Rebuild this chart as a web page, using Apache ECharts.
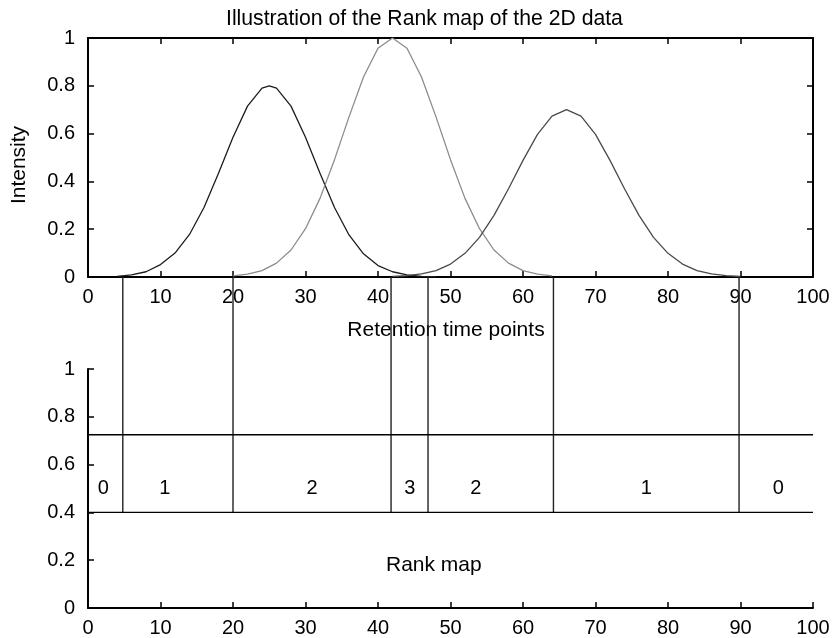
<!DOCTYPE html>
<html>
<head>
<meta charset="utf-8">
<script src="https://cdn.jsdelivr.net/npm/echarts@6/dist/echarts.min.js"></script>
<style>
  html, body { margin: 0; padding: 0; background: #fff; }
  #chart { width: 836px; height: 638px; }
</style>
</head>
<body>
<div id="chart"></div>
<script>
// peak profiles (retention time point, intensity)
const peak1X = [4, 6, 8, 10, 12, 14, 16, 18, 20, 22, 24, 25, 26, 28, 30, 32, 34, 36, 38, 40, 42, 44, 46, 48];
const peak1Y = [0.003, 0.009, 0.022, 0.052, 0.1, 0.178, 0.291, 0.434, 0.585, 0.715, 0.79, 0.8, 0.79, 0.715, 0.585, 0.434, 0.291, 0.176, 0.097, 0.048, 0.022, 0.009, 0.003, 0.001];

const peak2X = [20, 22, 24, 26, 28, 30, 32, 34, 36, 38, 40, 42, 44, 46, 48, 50, 52, 54, 56, 58, 60, 62, 64];
const peak2Y = [0.005, 0.012, 0.027, 0.058, 0.113, 0.202, 0.329, 0.491, 0.67, 0.837, 0.957, 1.0, 0.957, 0.837, 0.67, 0.491, 0.329, 0.202, 0.113, 0.058, 0.027, 0.012, 0.005];

const peak3X = [42, 44, 46, 48, 50, 52, 54, 56, 58, 60, 62, 64, 66, 68, 70, 72, 74, 76, 78, 80, 82, 84, 86, 88, 90];
const peak3Y = [0.002, 0.006, 0.013, 0.027, 0.054, 0.099, 0.166, 0.258, 0.369, 0.488, 0.597, 0.673, 0.7, 0.673, 0.597, 0.488, 0.369, 0.258, 0.166, 0.099, 0.054, 0.027, 0.013, 0.006, 0.002];

// rank map
const boundaries = [4.8, 20, 41.8, 46.9, 64.2, 89.8];
const bandLow = 0.4;
const bandHigh = 0.725;
const rankValues = [0, 1, 2, 3, 2, 1, 0];
const rankLabelX = [2.1, 10.6, 30.9, 44.4, 53.5, 77, 95.2];
const rankLabelY = 0.5;
const rankMapTextPos = [47.7, 0.18];

const xTicks = [0, 10, 20, 30, 40, 50, 60, 70, 80, 90, 100];
const yTicks = [0, 0.2, 0.4, 0.6, 0.8, 1];

const FONT = 'Liberation Sans, Arial, Helvetica, sans-serif';
const chart = echarts.init(document.getElementById('chart'));

const pairs = (xs, ys) => xs.map((x, i) => [x, ys[i]]);

const axisLine = { show: true, onZero: false, lineStyle: { color: '#000', width: 2 } };
const tick = { show: true, inside: true, length: 6, lineStyle: { color: '#000', width: 1.5 } };
const label = { color: '#000', fontSize: 20, fontFamily: FONT, showMinLabel: true, showMaxLabel: true };

const xBase = {
  type: 'value', min: xTicks[0], max: xTicks[xTicks.length - 1], interval: 10,
  splitLine: { show: false }, axisLine, axisTick: tick,
};
const yBase = {
  type: 'value', min: yTicks[0], max: yTicks[yTicks.length - 1], interval: 0.2,
  splitLine: { show: false }, axisLine, axisTick: tick,
};

// text placed at data coordinates in the rank-map panel
const textSeries = (data, size) => ({
  type: 'scatter', xAxisIndex: 1, yAxisIndex: 1, symbol: 'circle', symbolSize: 0, silent: true,
  itemStyle: { color: '#000' },
  data,
  label: {
    show: true, position: 'inside', formatter: (p) => p.name, opacity: 1,
    color: '#000', textBorderWidth: 0, fontSize: size, fontFamily: FONT,
  },
});

const option = {
  animation: false,
  backgroundColor: '#fff',
  title: {
    text: 'Illustration of the Rank map of the 2D data',
    left: 226,
    top: 9,
    padding: 0,
    textStyle: { color: '#000', fontSize: 21.2, fontWeight: 'normal', fontFamily: FONT },
  },
  grid: [
    { left: 88, right: 23, top: 38, height: 239 },
    { left: 88, right: 23, top: 369, height: 239 },
    { left: 88, right: 23, top: 277, height: 235 },
  ],
  xAxis: [
    {
      ...xBase, gridIndex: 0, position: 'bottom',
      axisLabel: { ...label, margin: 10 },
      name: 'Retention time points', nameLocation: 'middle', nameGap: 43,
      nameTextStyle: { color: '#000', fontSize: 21, fontFamily: FONT, padding: [0, 9, 0, 0] },
    },
    { ...xBase, gridIndex: 1, position: 'bottom', axisLabel: { ...label, margin: 10 } },
    { type: 'value', gridIndex: 2, min: 0, max: 100, show: false },
    { ...xBase, gridIndex: 0, position: 'top', axisLabel: { show: false } },
  ],
  yAxis: [
    {
      ...yBase, gridIndex: 0, position: 'left',
      axisLabel: { ...label, margin: 13 },
      name: 'Intensity', nameLocation: 'middle', nameGap: 58,
      nameTextStyle: { color: '#000', fontSize: 21, fontFamily: FONT, padding: [0, 15, 0, 0] },
    },
    { ...yBase, gridIndex: 1, position: 'left', axisLabel: { ...label, margin: 13 } },
    { type: 'value', gridIndex: 2, min: 0, max: 1, show: false },
    { ...yBase, gridIndex: 0, position: 'right', axisLabel: { show: false } },
  ],
  series: [
    {
      type: 'line', xAxisIndex: 0, yAxisIndex: 0, data: pairs(peak1X, peak1Y),
      showSymbol: false, silent: true, lineStyle: { color: '#1c1c1c', width: 1.3 },
    },
    {
      type: 'line', xAxisIndex: 0, yAxisIndex: 0, data: pairs(peak2X, peak2Y),
      showSymbol: false, silent: true, lineStyle: { color: '#8c8c8c', width: 1.3 },
    },
    {
      type: 'line', xAxisIndex: 0, yAxisIndex: 0, data: pairs(peak3X, peak3Y),
      showSymbol: false, silent: true, lineStyle: { color: '#4a4a4a', width: 1.3 },
    },
    ...boundaries.map((b) => ({
      type: 'line', xAxisIndex: 2, yAxisIndex: 2, data: [[b, 0], [b, 1]],
      showSymbol: false, silent: true, lineStyle: { color: '#222', width: 1.4 },
    })),
    ...[bandLow, bandHigh].map((v) => ({
      type: 'line', xAxisIndex: 1, yAxisIndex: 1, data: [[0, v], [100, v]],
      showSymbol: false, silent: true, lineStyle: { color: '#000', width: 1.4 },
    })),
    textSeries(rankLabelX.map((x, i) => ({ value: [x, rankLabelY], name: String(rankValues[i]) })), 20),
    textSeries([{ value: rankMapTextPos, name: 'Rank map' }], 21),
  ],
};

chart.setOption(option);
</script>
</body>
</html>
